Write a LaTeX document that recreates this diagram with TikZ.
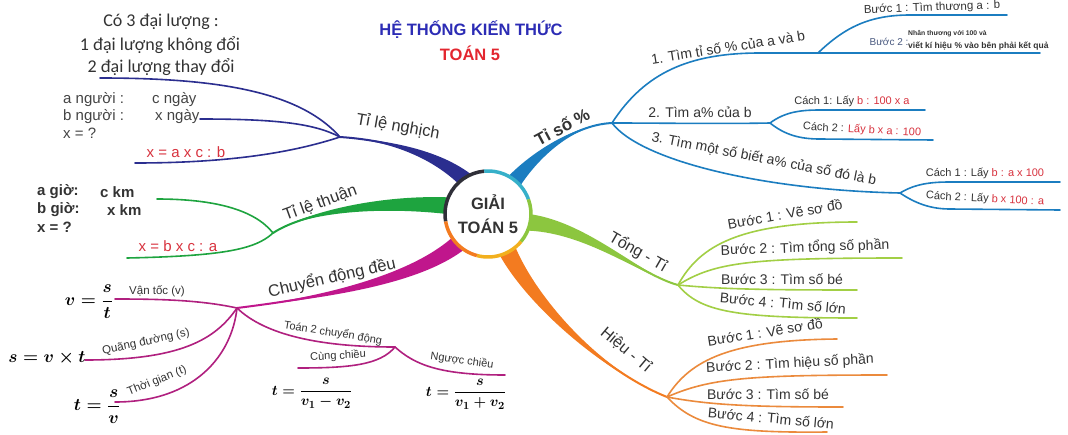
\documentclass[tikz,border=0pt]{standalone}
\usepackage{amsmath}
\usepackage{fontspec}
\setmainfont{Liberation Sans}
\newfontfamily\calib{Carlito}
\usetikzlibrary{calc}
\definecolor{nghich}{HTML}{2B2E8F}
\definecolor{thuan}{HTML}{1EA43F}
\definecolor{cdd}{HTML}{C0168C}
\definecolor{cddsub}{HTML}{B0207F}
\definecolor{tiso}{HTML}{1B7DC0}
\definecolor{tong}{HTML}{8CC63F}
\definecolor{tongsub}{HTML}{A2CF45}
\definecolor{hieu}{HTML}{F37B20}
\definecolor{hieusub}{HTML}{EB8A3C}
\definecolor{txt}{HTML}{333333}
\definecolor{txtl}{HTML}{444444}
\definecolor{redt}{HTML}{D8333F}
\definecolor{titleb}{HTML}{2C2CB5}
\definecolor{titler}{HTML}{E3262F}
\definecolor{ringc}{HTML}{36B0C9}
\definecolor{ringy}{HTML}{F2B01E}
\definecolor{ringd}{HTML}{2F2F38}
\definecolor{stepb}{HTML}{4A5A80}
\newcommand\fsz[1]{\fontsize{#1}{#1}\selectfont}
% tapered branch: colour, junction, ctrl1, ctrl2, end, half width at end, half width at ctrl2
\newcommand\taper[7]{%
  \fill[#1] (#2) .. controls (#3) and ($(#4)!#7!90:(#5)$) .. ($(#5)!#6!-90:(#4)$)
    -- ($(#5)!#6!90:(#4)$) .. controls ($(#4)!#7!-90:(#5)$) and (#3) .. (#2) -- cycle;
  \draw[#1,line width=2pt] (#2) .. controls (#3) and (#4) .. (#5);}
\tikzset{
  sub/.style={line width=1.6pt, line cap=round},
  lab/.style={text=txt, inner sep=0pt, font=\fsz{14}},
  small/.style={text=txt, inner sep=0pt, font=\fsz{11}},
  mid/.style={text=txt, inner sep=0pt, font=\fsz{11.5}},
  big/.style={text=txt, inner sep=0pt, font=\fsz{16.5}},
  frm/.style={text=black, inner sep=0pt, font=\fsz{17}\boldmath},
  frms/.style={text=black, inner sep=0pt, font=\fsz{15.5}\boldmath},
}
\begin{document}
\begin{tikzpicture}[x=1pt,y=-1pt]
\fill[white] (0,0) rectangle (1068,434);
\useasboundingbox (0,0) rectangle (1068,434);

% ---------- coordinates ----------
\coordinate (C) at (488,214);
\coordinate (J1) at (340,137);
\coordinate (J2) at (273,233);
\coordinate (J3) at (237,308);
\coordinate (J4) at (612,123);
\coordinate (J5) at (678,285);
\coordinate (J6) at (667,397);
\coordinate (E1) at (468,182);
\coordinate (E2) at (452,206);
\coordinate (E3) at (460,242);
\coordinate (E4) at (512,184);
\coordinate (E5) at (524,222);
\coordinate (E6) at (506,248);

% ---------- main branches ----------
\taper{nghich}{J1}{385,140}{435,152}{E1}{8pt}{5pt}
\taper{thuan}{J2}{305,212}{380,200}{E2}{8.5pt}{6pt}
\taper{cdd}{J3}{300,300}{410,285}{E3}{8.5pt}{6pt}
\taper{tiso}{J4}{570,125}{530,160}{E4}{8pt}{5pt}
\taper{tong}{J5}{640,275}{585,225}{E5}{8.5pt}{6pt}
\taper{hieu}{J6}{600,370}{530,300}{E6}{9pt}{6pt}

% ---------- centre ----------
\node[circle, fill=white, minimum size=86pt, inner sep=0pt] (hub) at (C) {};
\begin{scope}[shift={(C)},yscale=-1]
  \draw[line width=3.5pt,ringd] (95:43) arc (95:190:43);
  \draw[line width=3.5pt,ringc] (20:43) arc (20:95:43);
  \draw[line width=3.5pt,tong] (-40:43) arc (-40:20:43);
  \draw[line width=3.5pt,ringy] (-105:43) arc (-105:-40:43);
  \draw[line width=3.5pt,hieu] (-170:43) arc (-170:-105:43);
\end{scope}
\node[text=txt, font=\bfseries\fontsize{16.5}{24}\selectfont, align=center] (hubtext) at (C) {GIẢI\\TOÁN 5};

% ---------- title ----------
\node[text=titleb, font=\bfseries\fsz{16.5}] (title1) at (471,30) {HỆ THỐNG KIẾN THỨC};
\node[text=titler, font=\bfseries\fsz{16.5}] (title2) at (470,53) {TOÁN 5};

% ---------- Ti le nghich ----------
\coordinate (n1) at (100,78);
\coordinate (n2) at (200,119);
\coordinate (n3) at (135,163);
\draw[nghich,sub] (J1) .. controls (300,92) and (220,78) .. (n1);
\draw[nghich,sub] (J1) .. controls (315,124) and (280,119) .. (n2);
\draw[nghich,sub] (J1) .. controls (300,150) and (240,163) .. (n3);
\node[big, rotate=-10] (lnghich) at (398,127) {Tỉ lệ nghịch};
\node[text=txt, font=\calib\fsz{18}] (q1) at (161,22) {Có 3 đại lượng :};
\node[text=txt, font=\calib\fsz{18}] (q2) at (160,45) {1 đại lượng không đổi};
\node[text=txt, font=\calib\fsz{18}] (q3) at (161,67) {2 đại lượng thay đổi};
\node[text=txtl, font=\fsz{15}, anchor=west, inner sep=0pt] (an1) at (63,100) {a người :};
\node[text=txtl, font=\fsz{15}, anchor=west, inner sep=0pt] (an2) at (152,100) {c ngày};
\node[text=txtl, font=\fsz{15}, anchor=west, inner sep=0pt] (bn1) at (63,117) {b người :};
\node[text=txtl, font=\fsz{15}, anchor=west, inner sep=0pt] (bn2) at (155,117) {x ngày};
\node[text=txtl, font=\fsz{15}, anchor=west, inner sep=0pt] (xn) at (63,133) {x = ?};
\node[text=redt, font=\fsz{15}] (fn) at (186,152) {x = a x c : b};

% ---------- Ti le thuan ----------
\coordinate (t1) at (157,199);
\coordinate (t2) at (127,258);
\draw[thuan,sub] (J2) .. controls (255,210) and (215,199) .. (t1);
\draw[thuan,sub] (J2) .. controls (255,250) and (220,256) .. (t2);
\node[big, rotate=20] (lthuan) at (320,203) {Tỉ lệ thuận};
\node[text=txt, font=\bfseries\fsz{15}, anchor=west, inner sep=0pt] (ag1) at (37,192) {a giờ:};
\node[text=txt, font=\bfseries\fsz{15}, anchor=west, inner sep=0pt] (ag2) at (100,192) {c km};
\node[text=txt, font=\bfseries\fsz{15}, anchor=west, inner sep=0pt] (bg1) at (37,210) {b giờ:};
\node[text=txt, font=\bfseries\fsz{15}, anchor=west, inner sep=0pt] (bg2) at (107,210) {x km};
\node[text=txt, font=\bfseries\fsz{15}, anchor=west, inner sep=0pt] (xg) at (37,227) {x = ?};
\node[text=redt, font=\fsz{15}] (fg) at (178,246) {x = b x c : a};

% ---------- Chuyen dong deu ----------
\coordinate (v1) at (115,299);
\coordinate (s1) at (85,360);
\coordinate (g1) at (115,402);
\coordinate (K) at (395,347);
\coordinate (cc) at (298,368);
\coordinate (nc) at (505,375);
\draw[cddsub,sub] (J3) .. controls (200,300) and (160,299) .. (v1);
\draw[cddsub,sub] (J3) .. controls (215,340) and (180,360) .. (s1);
\draw[cddsub,sub] (J3) .. controls (232,355) and (195,402) .. (g1);
\draw[cddsub,sub] (J3) .. controls (265,335) and (320,347) .. (K);
\draw[cddsub,sub] (K) .. controls (380,365) and (350,368) .. (cc);
\draw[cddsub,sub] (K) .. controls (415,365) and (440,375) .. (nc);
\node[big, rotate=13] (lcdd) at (332,278) {Chuyển động đều};
\node[mid] (lvt) at (157,291) {Vận tốc (v)};
\node[mid, rotate=12] (lqd) at (146,342) {Quãng đường (s)};
\node[mid, rotate=22] (ltg) at (157,381) {Thời gian (t)};
\node[small, rotate=-9] (lt2) at (333,333) {Toán 2 chuyển động};
\node[small, rotate=3] (lcc) at (338,356) {Cùng chiều};
\node[small, rotate=-8] (lnc) at (462,361) {Ngược chiều};
\node[frm] (fv) at (89,302) {$v=\dfrac{s}{t}$};
\node[frm] (fs) at (47,358) {$s=v\times t$};
\node[frm] (ft) at (97,407) {$t=\dfrac{s}{v}$};
\node[frms] (ft1) at (312,393) {$t=\dfrac{s}{v_1-v_2}$};
\node[frms] (ft2) at (466,394) {$t=\dfrac{s}{v_1+v_2}$};

% ---------- Ti so % ----------
\coordinate (S1) at (818,53);
\coordinate (b1e) at (1007,15);
\coordinate (b2e) at (1040,53);
\coordinate (S2) at (770,123);
\coordinate (c1e) at (925,110);
\coordinate (c2e) at (933,140);
\coordinate (S3) at (900,193);
\coordinate (d1e) at (1060,182);
\coordinate (d2e) at (1060,210);
\draw[tiso,sub] (J4) .. controls (645,72) and (690,53) .. (760,53) -- (S1);
\draw[tiso,sub] (S1) -- (b2e);
\draw[tiso,sub] (S1) .. controls (845,27) and (870,15) .. (910,15) -- (b1e);
\draw[tiso,sub] (J4) .. controls (660,123) and (720,124) .. (S2);
\draw[tiso,sub] (S2) .. controls (785,112) and (800,110) .. (820,110) -- (c1e);
\draw[tiso,sub] (S2) .. controls (785,135) and (800,139) .. (820,139) -- (c2e);
\draw[tiso,sub] (J4) .. controls (640,160) and (760,190) .. (S3);
\draw[tiso,sub] (S3) .. controls (915,184) and (930,182) .. (950,182) -- (d1e);
\draw[tiso,sub] (S3) .. controls (915,203) and (930,209) .. (950,209) -- (d2e);
\node[text=txt, font=\bfseries\fsz{17}, rotate=28, inner sep=0pt] (ltiso) at (562,127) {Tỉ số \%};
\node[lab, rotate=9] (l1) at (728,47) {1. Tìm tỉ số \% của a và b};
\node[mid, rotate=2] (l1b1) at (932,8) {Bước 1 : Tìm thương a : b};
\node[text=stepb, font=\fsz{10}, inner sep=0pt] (l1b2) at (889,42) {Bước 2 :};
\node[text=txt, font=\bfseries\fsz{6.8}, anchor=west, inner sep=0pt] (l1b2a) at (908,34) {Nhân thương với 100 và};
\node[text=txt, font=\bfseries\fsz{8.5}, anchor=west, inner sep=0pt] (l1b2b) at (908,46) {viết kí hiệu \% vào bên phải kết quả};
\node[lab] (l2) at (700,112) {2. Tìm a\% của b};
\node[small] (l2c1) at (852,101) {Cách 1: Lấy \textcolor{redt}{b : 100 x a}};
\node[small, rotate=-3] (l2c2) at (862,130) {Cách 2 : \textcolor{redt}{Lấy b x a : 100}};
\node[lab, rotate=-11] (l3) at (764,159) {3. Tìm một số biết a\% của số đó là b};
\node[small] (l3c1) at (985,173) {Cách 1 : Lấy \textcolor{redt}{b : a x 100}};
\node[small, rotate=-3] (l3c2) at (985,199) {Cách 2 : Lấy \textcolor{redt}{b x 100 : a}};

% ---------- Tong - Ti ----------
\coordinate (g1e) at (857,222);
\coordinate (g2e) at (902,258);
\coordinate (g3e) at (857,290);
\coordinate (g4e) at (857,318);
\draw[tongsub,sub] (J5) .. controls (700,245) and (740,222) .. (g1e);
\draw[tongsub,sub] (J5) .. controls (715,262) and (750,258) .. (g2e);
\draw[tongsub,sub] (J5) .. controls (720,289) and (760,290) .. (g3e);
\draw[tongsub,sub] (J5) .. controls (700,312) and (735,318) .. (g4e);
\node[big, font=\fsz{16}, rotate=-30] (ltong) at (638,252) {Tổng - Tỉ};
\node[lab, rotate=10] (lg1) at (785,214) {Bước 1 : Vẽ sơ đồ};
\node[lab, rotate=2] (lg2) at (805,248) {Bước 2 : Tìm tổng số phần};
\node[lab] (lg3) at (782,279) {Bước 3 : Tìm số bé};
\node[lab, rotate=-5] (lg4) at (783,303) {Bước 4 : Tìm số lớn};

% ---------- Hieu - Ti ----------
\coordinate (h1e) at (837,339);
\coordinate (h2e) at (887,375);
\coordinate (h3e) at (843,407);
\coordinate (h4e) at (827,432);
\draw[hieusub,sub] (J6) .. controls (690,360) and (730,340) .. (h1e);
\draw[hieusub,sub] (J6) .. controls (710,378) and (750,375) .. (h2e);
\draw[hieusub,sub] (J6) .. controls (710,405) and (750,407) .. (h3e);
\draw[hieusub,sub] (J6) .. controls (695,427) and (730,433) .. (h4e);
\node[big, font=\fsz{16}, rotate=-40] (lhieu) at (626,350) {Hiệu - Tỉ};
\node[lab, rotate=9] (lh1) at (765,332) {Bước 1 : Vẽ sơ đồ};
\node[lab, rotate=3] (lh2) at (790,364) {Bước 2 : Tìm hiệu số phần};
\node[lab] (lh3) at (768,394) {Bước 3 : Tìm số bé};
\node[lab, rotate=-5] (lh4) at (771,418) {Bước 4 : Tìm số lớn};
\end{tikzpicture}
\end{document}
